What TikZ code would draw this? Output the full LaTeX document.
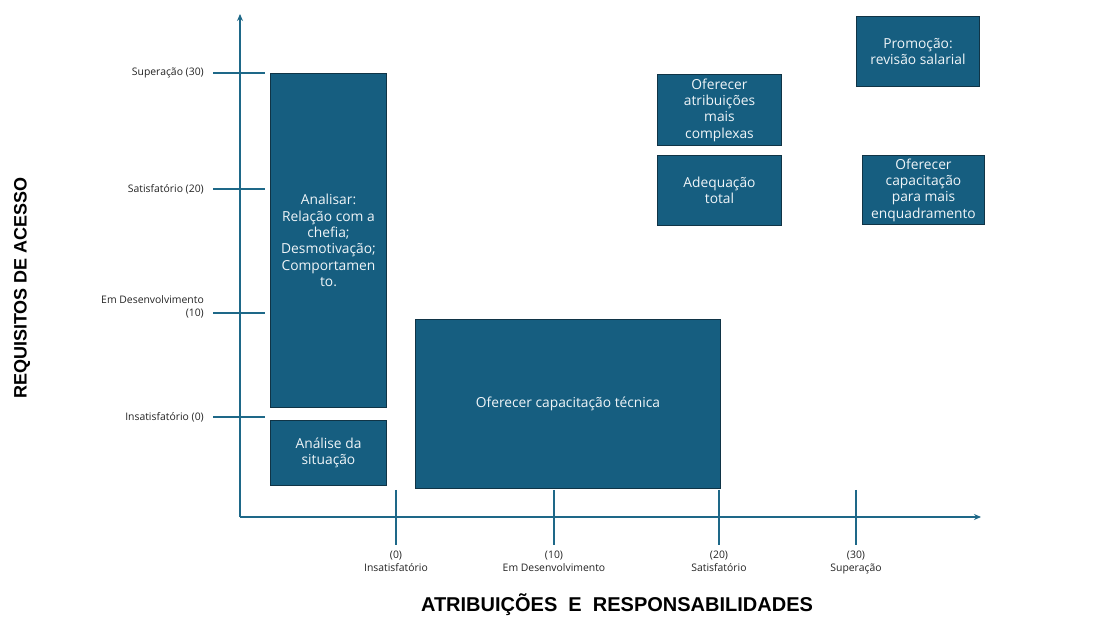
\documentclass[tikz,border=0pt]{standalone}
\usepackage{fontspec}
\usetikzlibrary{arrows.meta}
\setmainfont{Open Sans}
\newfontfamily\titlefont{Liberation Sans}
\definecolor{boxblue}{RGB}{22,94,128}
\definecolor{boxedge}{RGB}{16,52,70}
\definecolor{axisblue}{RGB}{30,104,136}
\definecolor{boxtext}{RGB}{240,245,248}
\definecolor{labelgrey}{RGB}{35,35,35}
\tikzset{
  actbox/.style={rectangle, draw=boxedge, line width=1pt, fill=boxblue, text=boxtext,
    align=center, anchor=north west, inner sep=2pt, font=\fontsize{13.8}{16.4}\selectfont},
  axisline/.style={draw=axisblue, line width=1.4pt},
  tickline/.style={draw=axisblue, line width=1.4pt},
  ticklabel/.style={text=labelgrey, font=\fontsize{10.4}{13}\selectfont, inner sep=0pt},
  axistitle/.style={text=black, font=\titlefont\bfseries\fontsize{18}{20}\selectfont, inner sep=0pt}
}
\begin{document}
\begin{tikzpicture}[x=1pt, y=-1pt]
    \useasboundingbox (0,0) rectangle (1117,617);

    % Axes
    \coordinate (origin) at (240,517);
    \coordinate (ytop) at (240,14);
    \coordinate (xend) at (981,517);
    \draw[axisline, -{Stealth[length=7pt, width=6pt]}] (origin) -- (ytop);
    \draw[axisline, -{Stealth[length=7pt, width=6pt]}] (origin) -- (xend);

    % Vertical scale
    \foreach \yy/\lbl in {73/Superação (30), 189/Satisfatório (20), 417/Insatisfatório (0)} {
        \draw[tickline] (213,\yy) -- (265,\yy);
        \node[ticklabel, anchor=east] at (204,\yy) {\lbl};
    }
    \draw[tickline] (213,313) -- (265,313);
    \node[ticklabel, anchor=south east, align=right] (ydev) at (204,318) {Em Desenvolvimento\\(10)};

    % Horizontal scale
    \foreach \xx/\num/\lbl in {396/0/Insatisfatório, 554/10/Em Desenvolvimento, 719/20/Satisfatório, 856/30/Superação} {
        \draw[tickline] (\xx,490) -- (\xx,545);
        \node[ticklabel, anchor=north, align=center] at (\xx,551) {(\num)\\\lbl};
    }

    % Titles
    \node[axistitle, font=\titlefont\bfseries\fontsize{20}{22}\selectfont] (xtitle) at (617,605) {ATRIBUIÇÕES\ \ E\ \ RESPONSABILIDADES};
    \node[axistitle, rotate=90] (ytitle) at (22,288) {REQUISITOS DE ACESSO};

    % Actions
    \node[actbox, minimum width=116pt, minimum height=334pt] (analisar) at (270,73)
        {Analisar:\\Relação com a\\chefia;\\Desmotivação;\\Comportamen\\to.};
    \node[actbox, minimum width=116pt, minimum height=65pt] (situacao) at (270,420)
        {Análise da\\situação};
    \node[actbox, minimum width=305pt, minimum height=169pt] (tecnica) at (415,319)
        {Oferecer capacitação técnica};
    \node[actbox, minimum width=124pt, minimum height=71pt] (complexas) at (657,74)
        {Oferecer\\atribuições\\mais\\complexas};
    \node[actbox, minimum width=124pt, minimum height=70pt] (adequacao) at (657,155)
        {Adequação\\total};
    \node[actbox, minimum width=123pt, minimum height=70pt] (promocao) at (856,16)
        {Promoção:\\revisão salarial};
    \node[actbox, minimum width=122pt, minimum height=69pt] (enquadra) at (862,155)
        {Oferecer\\capacitação\\para mais\\enquadramento};
\end{tikzpicture}
\end{document}
